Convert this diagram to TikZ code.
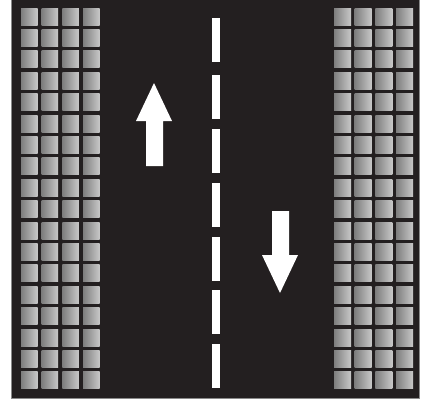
\documentclass[tikz,border=0pt]{standalone}
\definecolor{road}{HTML}{231F20}
\definecolor{winL}{HTML}{7E7E7E}
\definecolor{winR}{HTML}{C8C8C8}
\definecolor{edge}{HTML}{8A8A8A}
\tikzset{
  win/.style={left color=winL, right color=winR, draw=none},
  paint/.style={fill=white, draw=none},
}
\begin{document}
\begin{tikzpicture}[x=1pt,y=-1pt]
\useasboundingbox (0,0) rectangle (421,410);
\fill[white] (0,0) rectangle (421,410);
\fill[road] (11,0) rectangle (419,398);
\draw[edge, line width=0.8pt] (11,0) -- (11,398.4) -- (419,398.4) -- (419,0);
% windows
\foreach \r in {0,...,17} {
  \foreach \c in {0,...,3} {
    \shade[win] ({21+20.7*\c},{8+21.4*\r}) rectangle ++(16.5,17);
    \shade[win] ({334+20.7*\c},{8+21.4*\r}) rectangle ++(17,17);
  }
}
% centre dashes
\fill[paint] (212,18) rectangle (219.5,62);
\foreach \s in {75,129,183,237,290,344} {
  \fill[paint] (212,\s) rectangle (219.5,\s+44);
}
% arrows
\fill[paint] (146,166) -- (146,121) -- (136,121) -- (154,83) -- (172,121) -- (163,121) -- (163,166) -- cycle;
\fill[paint] (272,211) -- (272,255) -- (262,255) -- (280,293) -- (298,255) -- (289,255) -- (289,211) -- cycle;
\end{tikzpicture}
\end{document}
